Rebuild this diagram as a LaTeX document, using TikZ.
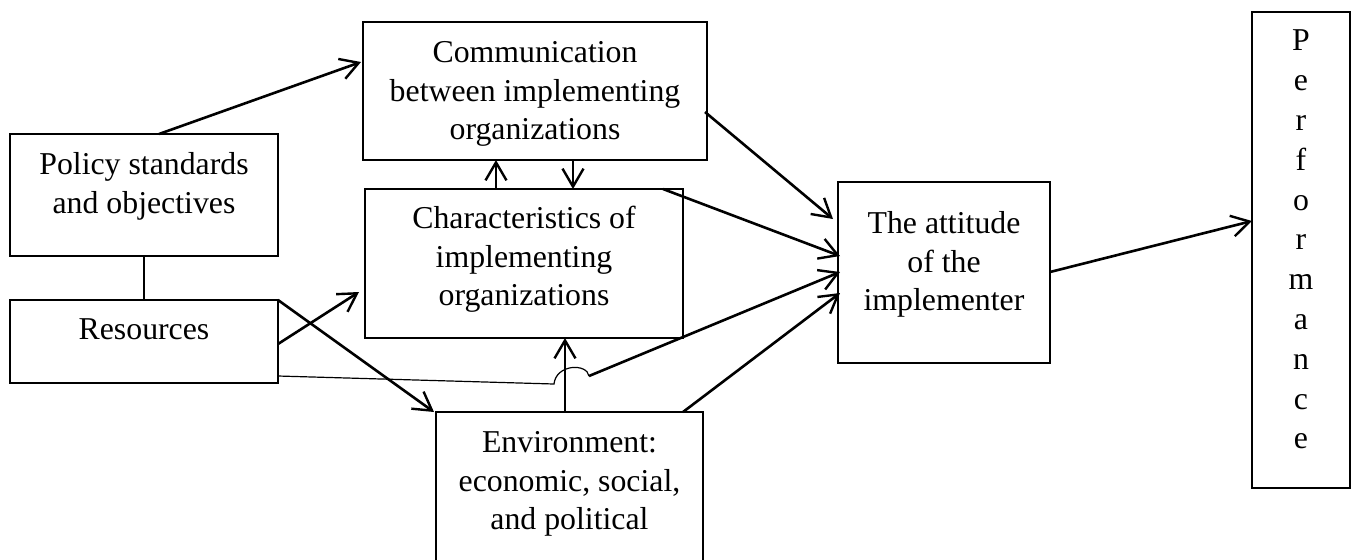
\documentclass[tikz,border=0pt]{standalone}
\usepackage{fontspec}
\setmainfont{Liberation Serif}
\usetikzlibrary{arrows.meta,calc}
\newcommand{\boxtxt}[4]{\begin{minipage}[c][#2][t]{#1}\centering\vspace*{#3}\strut #4\end{minipage}}
\tikzset{
  box/.style={draw, line width=0.95pt, inner sep=0pt, outer sep=0pt, anchor=north west},
  arr/.style={line width=1.3pt, -{Straight Barb[length=9pt,width=10.5pt,line width=1.2pt]}},
  thinline/.style={line width=0.6pt},
}
\begin{document}
\begin{tikzpicture}[x=0.5pt, y=-0.5pt, font=\fontsize{15.9}{19.25}\selectfont]
\useasboundingbox (0,0) rectangle (1351,559);
\clip (0,0) rectangle (1351,559);
% boxes
\node[box] (pol) at (10,134) {\boxtxt{134pt}{61pt}{7pt}{Policy standards\\and objectives}};
\node[box] (res) at (10,300) {\boxtxt{134pt}{41.5pt}{6.5pt}{Resources}};
\node[box] (com) at (363,22) {\boxtxt{172pt}{69pt}{7pt}{Communication\\between implementing\\organizations}};
\node[box] (cha) at (365,189) {\boxtxt{159pt}{74.5pt}{6.5pt}{Characteristics of\\implementing\\organizations}};
\node[box] (env) at (436,412) {\boxtxt{133.5pt}{77pt}{7pt}{Environment:\\economic, social,\\and political}};
\node[box] (att) at (838,182) {\boxtxt{106pt}{90.5pt}{12.5pt}{The attitude\\of the\\implementer}};
\node[box] (per) at (1252,12) {\fontsize{15.9}{19.9}\selectfont\boxtxt{49pt}{238pt}{5.5pt}{P\\e\\r\\f\\o\\r\\m\\a\\n\\c\\e}};
% connectors
\draw[thinline] ([xshift=67pt]pol.south west) -- ([xshift=67pt]pol.south west |- res.north);
\draw[arr] ([xshift=74.5pt]pol.north west) -- ([xshift=-1pt,yshift=-20pt]com.north west);
\draw[arr] ([xshift=-1pt,yshift=-45pt]com.north east) -- ([xshift=-2.5pt,yshift=-18.5pt]att.north west);
\draw[arr] ([xshift=-10pt]cha.north east) -- ([xshift=1pt,yshift=-37pt]att.north west);
\draw[arr] ([xshift=-10pt]env.north east) -- ([xshift=1pt,yshift=-55.5pt]att.north west);
\draw[arr] ([xshift=64.5pt]env.north west) -- ([xshift=64.5pt]env.north west |- cha.south);
\draw[arr] ([xshift=65.5pt]cha.north west) -- ([xshift=65.5pt]cha.north west |- com.south);
\draw[arr] ([xshift=105pt]com.south west) -- ([xshift=105pt]com.south west |- cha.north);
\draw[arr] ([yshift=-22pt]res.north east) -- ([xshift=-3pt,yshift=-51.5pt]cha.north west);
\draw[arr] (res.north east) -- ([xshift=-1pt]env.north west);
\coordinate (a1) at (554,384);
\coordinate (a2) at (589,376);
\draw[thinline] ([yshift=-38pt]res.north east) -- (a1) .. controls (556,364) and (587,363) .. (a2);
\draw[arr] (a2) -- ([xshift=1pt,yshift=-45pt]att.north west);
\draw[arr] ([yshift=-45pt]att.north east) -- ([yshift=-104.5pt]per.north west);
\end{tikzpicture}
\end{document}
